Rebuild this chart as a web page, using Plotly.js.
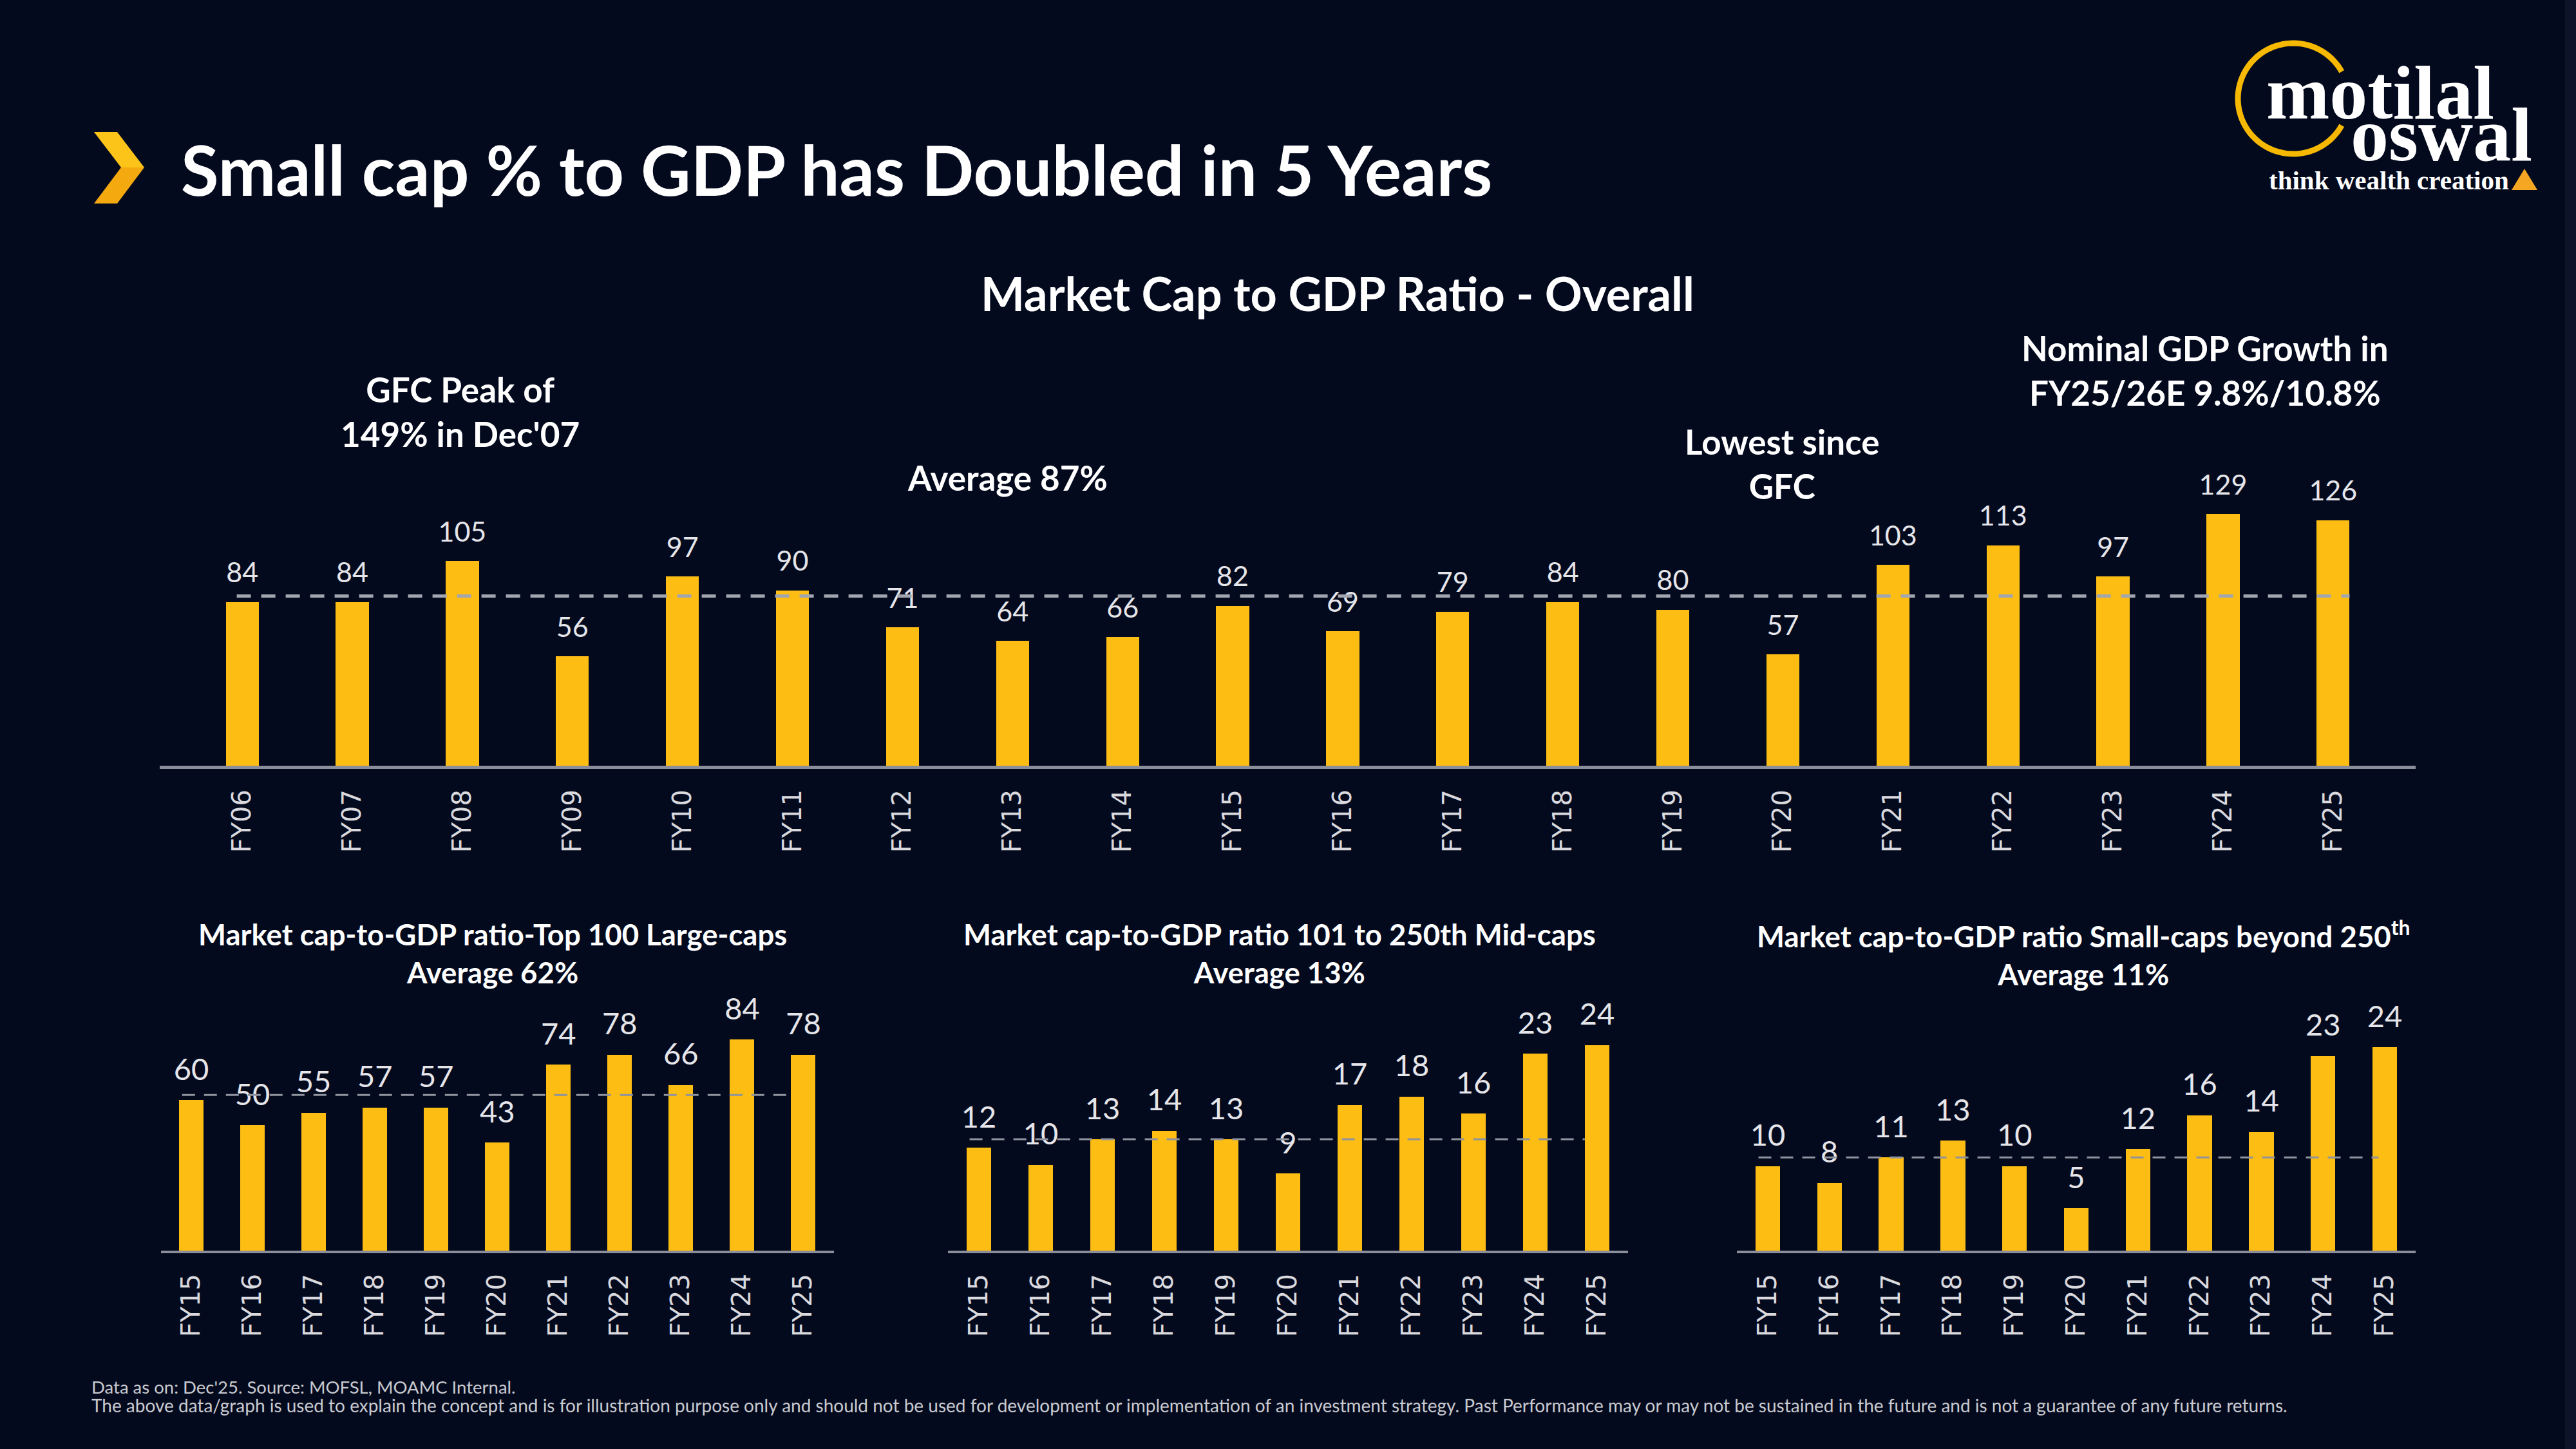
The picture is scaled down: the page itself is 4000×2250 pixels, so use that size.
<!DOCTYPE html>
<html><head><meta charset="utf-8">
<script src="https://cdn.plot.ly/plotly-3.0.1.min.js"></script>
<style>html,body{margin:0;padding:0;background:#040A1E;}#chart{width:4000px;height:2250px;}</style>
</head><body><div id="chart"></div>
<script>
// ---- data ----
const catsOverall = ['FY06','FY07','FY08','FY09','FY10','FY11','FY12','FY13','FY14','FY15','FY16','FY17','FY18','FY19','FY20','FY21','FY22','FY23','FY24','FY25'];
const valsOverall = [84,84,105,56,97,90,71,64,66,82,69,79,84,80,57,103,113,97,129,126];
const avgOverall = 87;
const catsSub = ['FY15','FY16','FY17','FY18','FY19','FY20','FY21','FY22','FY23','FY24','FY25'];
const valsLarge = [60,50,55,57,57,43,74,78,66,84,78];
const avgLarge = 62;
const valsMid = [12,10,13,14,13,9,17,18,16,23,24];
const avgMid = 13;
const valsSmall = [10,8,11,13,10,5,12,16,14,23,24];
const avgSmall = 11;

// ---- helpers ----
const W = 4000, H = 2250;
const px = x => x / W, py = y => 1 - y / H;
const BG = '#040A1E';
const barColor = '#FDBD12';
const FONT = 'Lato, "Open Sans", sans-serif';
const SERIF = '"Liberation Serif", "DejaVu Serif", serif';

function barTrace(cats, vals, xa, ya, width) {
  return {type:'bar', x:cats, y:vals, xaxis:xa, yaxis:ya, width:width,
    marker:{color:barColor, line:{width:0}}, hoverinfo:'skip', cliponaxis:false};
}
function labelTrace(cats, vals, xa, ya, size) {
  return {type:'scatter', mode:'markers+text', x:cats, y:vals, xaxis:xa, yaxis:ya,
    text:vals.map(String), textposition:'top center',
    marker:{size:30, opacity:0}, textfont:{family:FONT, size:size, color:'#E6E6EA'},
    cliponaxis:false, hoverinfo:'skip', showlegend:false};
}
function xax(d0, d1, range, anchor, lw) {
  return {domain:[px(d0), px(d1)], range:range, type:'category', anchor:anchor,
    showline:true, linecolor:'#8A8E9A', linewidth:lw, showgrid:false, zeroline:false,
    ticks:'', tickangle:-90, ticklabelstandoff:16,
    tickfont:{family:'"DejaVu Sans", sans-serif', size:40, color:'#D9D9DE'}, fixedrange:true};
}
function yax(base, top, range, anchor) {
  return {domain:[py(base), py(top)], range:range, anchor:anchor, visible:false,
    showgrid:false, zeroline:false, fixedrange:true};
}
function avgLine(xref, yref, x0, x1, val, w, dash, color) {
  return {type:'line', xref:xref, yref:yref, x0:x0, x1:x1, y0:val, y1:val,
    line:{color:color, width:w, dash:dash}, layer:'above'};
}
function polyPath(pts) {
  return 'M ' + pts.map(p => px(p[0]).toFixed(5) + ',' + py(p[1]).toFixed(5)).join(' L ') + ' Z';
}
function ann(text, x, y, size, opts) {
  return Object.assign({text:text, x:px(x), y:py(y), xref:'paper', yref:'paper', showarrow:false,
    xanchor:'center', yanchor:'middle', font:{family:FONT, size:size, color:'#FFFFFF', weight:700}}, opts || {});
}

// ---- traces ----
const traces = [
  barTrace(catsOverall, valsOverall, 'x', 'y', 0.30),
  labelTrace(catsOverall, valsOverall, 'x', 'y', 43),
  barTrace(catsSub, valsLarge, 'x2', 'y2', 0.40),
  labelTrace(catsSub, valsLarge, 'x2', 'y2', 47),
  barTrace(catsSub, valsMid, 'x3', 'y3', 0.40),
  labelTrace(catsSub, valsMid, 'x3', 'y3', 47),
  barTrace(catsSub, valsSmall, 'x4', 'y4', 0.40),
  labelTrace(catsSub, valsSmall, 'x4', 'y4', 47)
];

// ---- logo ring ----
const ringPts = [];
const cx = 3561, cy = 153, r = 86;
for (let i = 0; i <= 80; i++) {
  const a = (29 + (302 * i / 80)) * Math.PI / 180;
  ringPts.push([cx + r * Math.cos(a), cy - r * Math.sin(a)]);
}
const ringPath = 'M ' + ringPts.map(p => px(p[0]).toFixed(5) + ',' + py(p[1]).toFixed(5)).join(' L ');

const shapes = [
  {type:'rect', xref:'paper', yref:'paper', x0:px(3983), x1:1, y0:0, y1:1, fillcolor:'#0D1328', line:{width:0}, layer:'below'},
  avgLine('x', 'y', -0.05, 19.15, avgOverall, 5, '22px,16px', '#A2A6B0'),
  avgLine('x2', 'y2', -0.15, 9.8, avgLarge, 3, '20px,14px', '#8F939E'),
  avgLine('x3', 'y3', -0.15, 9.8, avgMid, 3, '20px,14px', '#8F939E'),
  avgLine('x4', 'y4', -0.15, 9.9, avgSmall, 3, '20px,14px', '#8F939E'),
  // chevron icon
  {type:'path', xref:'paper', yref:'paper', path:polyPath([[146,205],[182,205],[224,260],[188,260]]), fillcolor:'#FCC419', line:{width:0}},
  {type:'path', xref:'paper', yref:'paper', path:polyPath([[188,260],[224,260],[182,316],[146,316]]), fillcolor:'#F4AA0E', line:{width:0}},
  // logo ring & triangle
  {type:'path', xref:'paper', yref:'paper', path:ringPath, line:{color:'#F6B800', width:9}},
  {type:'path', xref:'paper', yref:'paper', path:polyPath([[3900,295],[3920,262],[3940,295]]), fillcolor:'#F5A623', line:{width:0}}
];

const annotations = [
  ann('Small cap % to GDP has Doubled in 5 Years', 279, 262, 107, {xanchor:'left'}),
  ann('Market Cap to GDP Ratio - Overall', 2077, 455, 72),
  ann('GFC Peak of<br>149% in Dec\'07', 714, 639, 53),
  ann('Average 87%', 1564, 742, 53),
  ann('Lowest since<br>GFC', 2767, 720, 53),
  ann('Nominal GDP Growth in<br>FY25/26E 9.8%/10.8%', 3424, 575, 53),
  ann('Market cap-to-GDP ratio-Top 100 Large-caps<br>Average 62%', 765, 1480, 45.5),
  ann('Market cap-to-GDP ratio 101 to 250th Mid-caps<br>Average 13%', 1987, 1480, 45.5),
  ann('Market cap-to-GDP ratio Small-caps beyond 250<sup>th</sup><br>Average 11%', 3235, 1480, 45.5),
  // logo text
  ann('motilal', 3517, 144, 118, {xanchor:'left', font:{family:SERIF, size:118, color:'#FFFFFF', weight:700}}),
  ann('oswal', 3648, 209, 118, {xanchor:'left', font:{family:SERIF, size:118, color:'#FFFFFF', weight:700}}),
  ann('think wealth creation', 3521, 280, 41, {xanchor:'left', font:{family:SERIF, size:41, color:'#FFFFFF', weight:700}}),
  // footnotes
  ann('Data as on: Dec\'25. Source: MOFSL, MOAMC Internal.', 140, 2153, 27.5, {xanchor:'left', font:{family:FONT, size:27.5, color:'#C9CAD0', weight:400}}),
  ann('The above data/graph is used to explain the concept and is for illustration purpose only and should not be used for development or implementation of an investment strategy. Past Performance may or may not be sustained in the future and is not a guarantee of any future returns.', 140, 2182, 28, {xanchor:'left', font:{family:FONT, size:28, color:'#C9CAD0', weight:400}})
];

const layout = {
  width:W, height:H, autosize:false,
  margin:{l:0, r:0, t:0, b:0, pad:0},
  paper_bgcolor:BG, plot_bgcolor:'rgba(0,0,0,0)',
  showlegend:false, bargap:0,
  xaxis: xax(248, 3751, [-0.75, 19.75], 'y', 5),
  yaxis: yax(1189, 750, [0, 145], 'x'),
  xaxis2: xax(249.5, 1295, [-0.5, 10.5], 'y2', 4),
  yaxis2: yax(1942, 1571.5, [0, 95], 'x2'),
  xaxis3: xax(1472, 2528, [-0.5, 10.5], 'y3', 4),
  yaxis3: yax(1942, 1569.6, [0, 28], 'x3'),
  xaxis4: xax(2697, 3751, [-0.5, 10.5], 'y4', 4),
  yaxis4: yax(1942, 1573.8, [0, 28], 'x4'),
  shapes: shapes,
  annotations: annotations
};

Plotly.newPlot('chart', traces, layout, {staticPlot:true, displayModeBar:false});
</script>
</body></html>
